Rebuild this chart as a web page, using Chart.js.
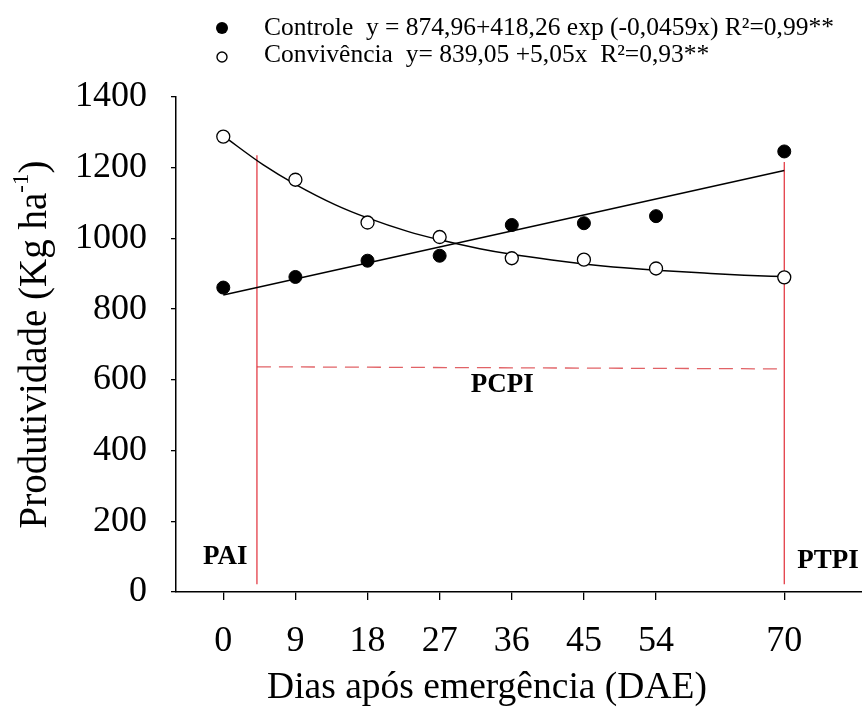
<!DOCTYPE html>
<html>
<head>
<meta charset="utf-8">
<script src="https://cdn.jsdelivr.net/npm/chart.js@4.4.1/dist/chart.umd.min.js"></script>
<style>
  html, body { margin: 0; padding: 0; background: #fff; }
  #wrap { width: 862px; height: 720px; position: relative; }
</style>
</head>
<body>
<div id="wrap"><canvas id="grafico"></canvas></div>
<script>
// dados
const dias = [0, 9, 18, 27, 36, 45, 54, 70];
const controle = [861, 891, 937, 951, 1038, 1043, 1063, 1246];
const convivencia = [1288, 1166, 1045, 1004, 944, 940, 915, 890];

// curvas ajustadas
const retaX = [0, 70];
const retaY = [840, 1192];
const curvaX = [0, 5, 9, 14, 18, 23, 27, 32, 36, 41, 45, 50, 54, 60, 65, 70];
const curvaY = [1290, 1208, 1153, 1095, 1058, 1020, 996, 971, 955, 939, 928, 917, 910, 902, 896, 892];

// linhas vermelhas PAI / PTPI / PCPI
const paiX = [4.2, 4.2];
const paiY = [22, 1235];
const ptpiX = [70, 70];
const ptpiY = [22, 1216];
const pcpiX = [4.2, 70];
const pcpiY = [637, 631];

const xTicks = [0, 9, 18, 27, 36, 45, 54, 70];
const yTicks = [0, 200, 400, 600, 800, 1000, 1200, 1400];

const legendas = [
  "Controle  y = 874,96+418,26 exp (-0,0459x) R²=0,99**",
  "Convivência  y= 839,05 +5,05x  R²=0,93**"
];
const tituloX = "Dias após emergência (DAE)";
const tituloY = ["Produtividade (Kg ha", "-1", ")"];

const fonte = "'Liberation Serif', 'Times New Roman', serif";

function pares(xs, ys) {
  return xs.map((x, i) => ({ x: x, y: ys[i] }));
}

const vermelho = "rgb(225, 45, 55)";

// textos e legenda desenhados por cima
const textosPlugin = {
  id: "textos",
  afterDraw(chart) {
    const ctx = chart.ctx;
    const sx = chart.scales.x;
    const sy = chart.scales.y;
    ctx.save();
    ctx.fillStyle = "#000";

    // legenda
    ctx.font = "25.5px " + fonte;
    ctx.textBaseline = "middle";
    ctx.textAlign = "left";
    const linhasY = [28.5, 55];
    ctx.beginPath();
    ctx.arc(222, 28, 6, 0, Math.PI * 2);
    ctx.fill();
    ctx.beginPath();
    ctx.arc(222, 57, 5, 0, Math.PI * 2);
    ctx.lineWidth = 1.4;
    ctx.strokeStyle = "#000";
    ctx.stroke();
    ctx.fillText(legendas[0], 264, linhasY[0]);
    ctx.fillText(legendas[1], 264, linhasY[1]);

    // PAI, PCPI, PTPI
    ctx.font = "bold 27px " + fonte;
    ctx.textAlign = "center";
    ctx.fillText("PAI", sx.getPixelForValue(0.25), sy.getPixelForValue(100));
    ctx.fillText("PCPI", sx.getPixelForValue(34.8), sy.getPixelForValue(586));
    ctx.textAlign = "left";
    ctx.fillText("PTPI", sx.getPixelForValue(70) + 13, sy.getPixelForValue(87));

    // titulo x
    ctx.font = "37.5px " + fonte;
    ctx.textAlign = "center";
    ctx.fillText(tituloX, 487, 688);

    // titulo y com sobrescrito
    ctx.translate(36, (chart.chartArea.top + chart.chartArea.bottom) / 2);
    ctx.rotate(-Math.PI / 2);
    ctx.font = "39px " + fonte;
    const w1 = ctx.measureText(tituloY[0]).width;
    const w3 = ctx.measureText(tituloY[2]).width;
    ctx.font = "23px " + fonte;
    const w2 = ctx.measureText(tituloY[1]).width;
    let x0 = -(w1 + w2 + w3) / 2;
    ctx.textAlign = "left";
    ctx.font = "39px " + fonte;
    ctx.fillText(tituloY[0], x0, 0);
    ctx.font = "23px " + fonte;
    ctx.fillText(tituloY[1], x0 + w1, -14);
    ctx.font = "39px " + fonte;
    ctx.fillText(tituloY[2], x0 + w1 + w2, 0);
    ctx.restore();
  }
};

let grafico;

function crearGrafico() {
  const ctx = document.getElementById("grafico").getContext("2d");
  grafico = new Chart(ctx, {
    type: "scatter",
    data: {
      datasets: [
        {
          label: "Controle",
          data: pares(dias, controle),
          backgroundColor: "#000",
          borderColor: "#000",
          pointRadius: 6.5,
          order: 0
        },
        {
          label: "Convivência",
          data: pares(dias, convivencia),
          backgroundColor: "#fff",
          borderColor: "#000",
          borderWidth: 1.3,
          pointRadius: 6.5,
          order: 0
        },
        {
          label: "reta",
          data: pares(retaX, retaY),
          showLine: true,
          borderColor: "#000",
          borderWidth: 1.5,
          pointRadius: 0,
          order: 1
        },
        {
          label: "curva",
          data: pares(curvaX, curvaY),
          showLine: true,
          borderColor: "#000",
          borderWidth: 1.5,
          pointRadius: 0,
          cubicInterpolationMode: "monotone",
          order: 1
        },
        {
          label: "PAI",
          data: pares(paiX, paiY),
          showLine: true,
          borderColor: vermelho,
          borderWidth: 1.2,
          pointRadius: 0,
          order: 2
        },
        {
          label: "PTPI",
          data: pares(ptpiX, ptpiY),
          showLine: true,
          borderColor: vermelho,
          borderWidth: 1.2,
          pointRadius: 0,
          order: 2
        },
        {
          label: "PCPI",
          data: pares(pcpiX, pcpiY),
          showLine: true,
          borderColor: "rgba(220, 70, 75, 0.85)",
          borderWidth: 1.3,
          borderDash: [14, 8],
          pointRadius: 0,
          order: 2
        }
      ]
    },
    options: {
      responsive: true,
      maintainAspectRatio: false,
      animation: false,
      layout: { autoPadding: false, padding: { top: 97, right: 0, left: 0, bottom: 0 } },
      plugins: {
        legend: { display: false },
        tooltip: { enabled: false }
      },
      scales: {
        x: {
          type: "linear",
          min: -5.9,
          max: 79.7,
          afterFit: function (s) {
            s.height = 128;
            s.paddingLeft = 0;
            s.paddingRight = 0;
          },
          afterBuildTicks: function (s) {
            s.ticks = xTicks.map(v => ({ value: v }));
          },
          grid: { drawOnChartArea: false, drawTicks: true, tickLength: 8, color: "#000", lineWidth: 1.3 },
          border: { display: true, color: "#000", width: 1.5 },
          ticks: {
            color: "#000",
            font: { family: fonte, size: 36 },
            padding: 20,
            maxRotation: 0,
            autoSkip: false
          }
        },
        y: {
          min: 0,
          max: 1400,
          afterFit: function (s) { s.width = 176; },
          afterBuildTicks: function (s) {
            s.ticks = yTicks.map(v => ({ value: v }));
          },
          grid: { drawOnChartArea: false, drawTicks: true, tickLength: 5, color: "#000", lineWidth: 1.3 },
          border: { display: true, color: "#000", width: 1.5 },
          ticks: {
            color: "#000",
            font: { family: fonte, size: 36 },
            padding: 24,
            callback: function (v) { return String(v); }
          }
        }
      }
    },
    plugins: [textosPlugin]
  });
}

crearGrafico();
</script>
</body>
</html>
